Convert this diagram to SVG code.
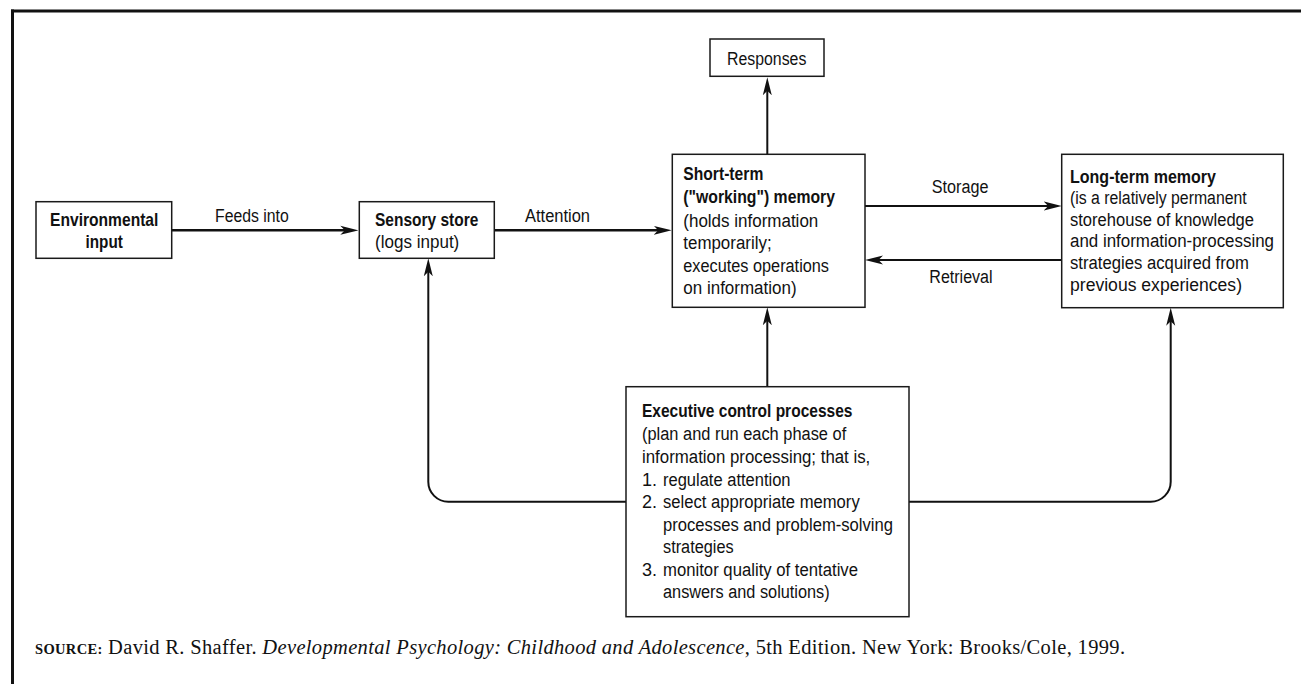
<svg xmlns="http://www.w3.org/2000/svg" width="1301" height="684" viewBox="0 0 1301 684">
<style>
.box{fill:#fff;stroke:#1a1a1a;stroke-width:1.5}
.t{font-family:"Liberation Sans",Arial,Helvetica,sans-serif;font-size:18px;fill:#111}
.b{font-weight:bold;font-size:18.5px}
.c{fill:none;stroke:#111;stroke-width:2}
.ct{fill:none;stroke:#111;stroke-width:2.5}
.src{font-family:"Liberation Serif","Times New Roman",serif;font-size:20.5px;fill:#111}
</style>
<defs>
<marker id="ah" viewBox="0 0 18 10" refX="8" refY="5" markerWidth="18" markerHeight="10" markerUnits="userSpaceOnUse" orient="auto">
<path d="M0,0.5 L18,5 L0,9.5 L4.5,5 z" fill="#111"/>
</marker>
</defs>
<rect width="1301" height="684" fill="#fff"/>
<g id="frame">
<line x1="11" y1="11" x2="1301" y2="11" stroke="#111" stroke-width="3"/>
<line x1="12.5" y1="9.5" x2="12.5" y2="684" stroke="#111" stroke-width="3"/>
</g>
<g id="connectors">
<path class="ct" d="M172,230.3 H348.3" marker-end="url(#ah)"/>
<path class="ct" d="M494.3,230.3 H661.7" marker-end="url(#ah)"/>
<path class="c" d="M767.3,154.3 V87.3" marker-end="url(#ah)"/>
<path class="c" d="M865,206 H1051.7" marker-end="url(#ah)"/>
<path class="c" d="M1061.7,260 H875" marker-end="url(#ah)"/>
<path class="c" d="M767.3,386.7 V317.3" marker-end="url(#ah)"/>
<path class="c" d="M626,501.7 H448.3 A20,20 0 0 1 428.3,481.7 V268.3" marker-end="url(#ah)"/>
<path class="c" d="M909,501.7 H1150.7 A20,20 0 0 0 1170.7,481.7 V317.7" marker-end="url(#ah)"/>
<text class="t" x="215" y="221.7" textLength="73.7" lengthAdjust="spacingAndGlyphs">Feeds into</text>
<text class="t" x="525" y="221.7" textLength="65" lengthAdjust="spacingAndGlyphs">Attention</text>
<text class="t" x="931.7" y="193.3" textLength="56.7" lengthAdjust="spacingAndGlyphs">Storage</text>
<text class="t" x="929.3" y="283.3" textLength="63.3" lengthAdjust="spacingAndGlyphs">Retrieval</text>
</g>
<g id="environmental-input">
<rect class="box" x="36" y="201.7" width="135.7" height="56.6"/>
<text class="t b" x="104.2" y="226" text-anchor="middle" textLength="108.3" lengthAdjust="spacingAndGlyphs">Environmental</text>
<text class="t b" x="104.2" y="248.3" text-anchor="middle" textLength="37.3" lengthAdjust="spacingAndGlyphs">input</text>
</g>
<g id="sensory-store">
<rect class="box" x="359.3" y="201.7" width="135" height="56.6"/>
<text class="t b" x="375" y="226" textLength="103.3" lengthAdjust="spacingAndGlyphs">Sensory store</text>
<text class="t" x="375" y="248.3" textLength="84.3" lengthAdjust="spacingAndGlyphs">(logs input)</text>
</g>
<g id="responses">
<rect class="box" x="710" y="39" width="114" height="37.3"/>
<text class="t" x="766.7" y="65" text-anchor="middle" textLength="79.3" lengthAdjust="spacingAndGlyphs">Responses</text>
</g>
<g id="short-term-memory">
<rect class="box" x="672.3" y="154.3" width="192.7" height="153"/>
<text class="t b" x="683.3" y="180" textLength="80" lengthAdjust="spacingAndGlyphs">Short-term</text>
<text class="t b" x="683.3" y="203" textLength="151.7" lengthAdjust="spacingAndGlyphs">("working") memory</text>
<text class="t" x="683.3" y="226.5" textLength="135" lengthAdjust="spacingAndGlyphs">(holds information</text>
<text class="t" x="683.3" y="249.3" textLength="88.3" lengthAdjust="spacingAndGlyphs">temporarily;</text>
<text class="t" x="683.3" y="271.7" textLength="145.7" lengthAdjust="spacingAndGlyphs">executes operations</text>
<text class="t" x="683.3" y="294.3" textLength="113.3" lengthAdjust="spacingAndGlyphs">on information)</text>
</g>
<g id="long-term-memory">
<rect class="box" x="1061.7" y="154.3" width="221.6" height="153.4"/>
<text class="t b" x="1070" y="182.5" textLength="146" lengthAdjust="spacingAndGlyphs">Long-term memory</text>
<text class="t" x="1070" y="204" textLength="176.7" lengthAdjust="spacingAndGlyphs">(is a relatively permanent</text>
<text class="t" x="1070" y="225.5" textLength="184" lengthAdjust="spacingAndGlyphs">storehouse of knowledge</text>
<text class="t" x="1070" y="247.3" textLength="204" lengthAdjust="spacingAndGlyphs">and information-processing</text>
<text class="t" x="1070" y="269.3" textLength="179" lengthAdjust="spacingAndGlyphs">strategies acquired from</text>
<text class="t" x="1070" y="291.3" textLength="172" lengthAdjust="spacingAndGlyphs">previous experiences)</text>
</g>
<g id="executive-control">
<rect class="box" x="626" y="386.7" width="283" height="230"/>
<text class="t b" x="642" y="417.3" textLength="210.4" lengthAdjust="spacingAndGlyphs">Executive control processes</text>
<text class="t" x="642" y="440" textLength="204.2" lengthAdjust="spacingAndGlyphs">(plan and run each phase of</text>
<text class="t" x="642" y="462.5" textLength="228.3" lengthAdjust="spacingAndGlyphs">information processing; that is,</text>
<text class="t" x="642" y="485.5">1.</text>
<text class="t" x="663" y="485.5" textLength="127.5" lengthAdjust="spacingAndGlyphs">regulate attention</text>
<text class="t" x="642" y="508">2.</text>
<text class="t" x="663" y="508" textLength="196.7" lengthAdjust="spacingAndGlyphs">select appropriate memory</text>
<text class="t" x="663" y="530.7" textLength="230" lengthAdjust="spacingAndGlyphs">processes and problem-solving</text>
<text class="t" x="663" y="553.3" textLength="70.6" lengthAdjust="spacingAndGlyphs">strategies</text>
<text class="t" x="642" y="575.7">3.</text>
<text class="t" x="663" y="575.7" textLength="195" lengthAdjust="spacingAndGlyphs">monitor quality of tentative</text>
<text class="t" x="663" y="598.3" textLength="166.7" lengthAdjust="spacingAndGlyphs">answers and solutions)</text>
</g>
<g id="source">
<text class="src" x="35" y="654" textLength="1090" lengthAdjust="spacing"><tspan font-weight="bold" font-size="14.5">SOURCE:</tspan> David R. Shaffer. <tspan font-style="italic">Developmental Psychology: Childhood and Adolescence</tspan>, 5th Edition.  New York: Brooks/Cole, 1999.</text>
</g>
</svg>
